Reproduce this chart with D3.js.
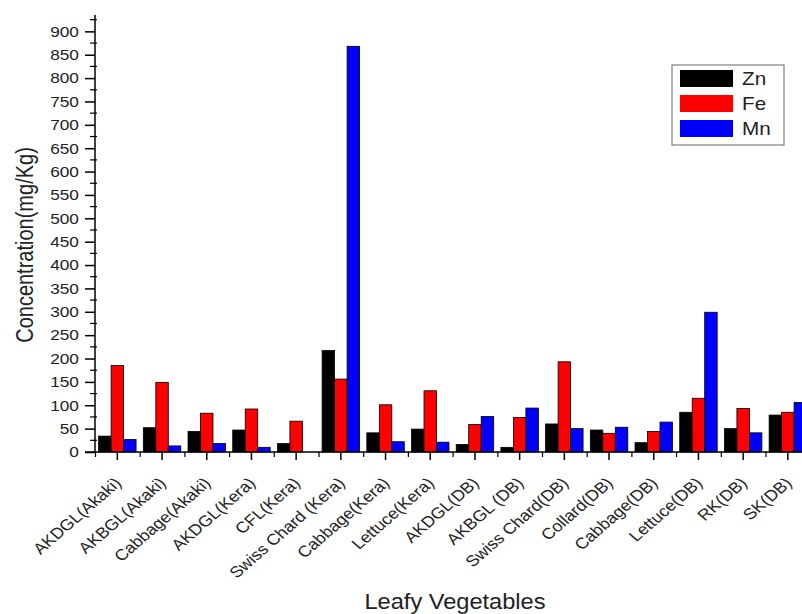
<!DOCTYPE html>
<html>
<head>
<meta charset="utf-8">
<script src="https://cdn.jsdelivr.net/npm/d3@7"></script>
<style>
  body { margin: 0; background: #fff; }
  svg { display: block; font-family: "Liberation Sans", Arial, sans-serif; }
</style>
</head>
<body>
<svg width="802" height="614"></svg>
<script>
// categories and series
var vegetables = ["AKDGL(Akaki)", "AKBGL(Akaki)", "Cabbage(Akaki)", "AKDGL(Kera)", "CFL(Kera)",
  "Swiss Chard (Kera)", "Cabbage(Kera)", "Lettuce(Kera)", "AKDGL(DB)", "AKBGL (DB)",
  "Swiss Chard(DB)", "Collard(DB)", "Cabbage(DB)", "Lettuce(DB)", "RK(DB)", "SK(DB)"];
var metals = ["Zn", "Fe", "Mn"];
var zn = [34, 52, 44, 47, 18, 217, 41, 49, 16, 10, 60, 47, 20, 85, 50, 79];
var fe = [185, 149, 83, 92, 66, 156, 101, 131, 59, 74, 193, 40, 44, 115, 93, 85];
var mn = [27, 13, 18, 10, 0, 868, 22, 21, 76, 94, 50, 53, 64, 299, 41, 106];
var yTicks = d3.range(0, 901, 50);

var colours = { Zn: "#000000", Fe: "#ff0000", Mn: "#0000ff" };
var textColour = "#222";
// the original picture is a little stretched sideways
var stretch = 1.15;

var svg = d3.select("svg");

var rows = vegetables.map(function (v, i) {
    return { name: v, values: [zn[i], fe[i], mn[i]] };
});

// scales
var y = d3.scaleLinear().domain([0, 935]).range([452, 15]);
var x = d3.scaleBand().domain(vegetables).range([95, 95 + 16 * 44.7]);
var xSub = d3.scaleBand().domain(metals).range([0, x.bandwidth()]).paddingInner(0).paddingOuter(0.29);

//////////// BARS ////////////
var groups = svg.append("g")
    .attr("class", "bars")
    .selectAll("g")
    .data(rows)
    .enter().append("g")
    .attr("transform", (d) => `translate(${x(d.name)},0)`);

groups.selectAll("rect")
    .data((d) => d.values.map((v, j) => ({ key: metals[j], value: v })))
    .enter().append("rect")
    .filter((d) => d.value > 0)
    .attr("x", (d) => xSub(d.key))
    .attr("y", (d) => y(d.value))
    .attr("width", xSub.bandwidth())
    .attr("height", (d) => y(0) - y(d.value))
    .attr("fill", (d) => colours[d.key])
    .attr("stroke", "#000")
    .attr("stroke-width", 0.8);

//////////// AXES ////////////
var yAxis = svg.append("g")
    .attr("transform", "translate(95,0)")
    .call(d3.axisLeft(y).tickValues(yTicks).tickSize(10));
yAxis.select(".domain").attr("d", `M0,${y(0)}V${y(935)}`).attr("stroke-width", 1.5);
yAxis.selectAll(".tick line").attr("stroke-width", 1.5);
yAxis.selectAll(".tick text")
    .attr("font-size", 15).attr("fill", textColour)
    .attr("font-family", "Liberation Sans, Arial, sans-serif")
    .attr("x", -14)
    .attr("transform", `scale(${stretch},1)`);

// minor y ticks
svg.append("g").selectAll("line")
    .data(d3.range(25, 935, 50))
    .enter().append("line")
    .attr("x1", 90).attr("x2", 97)
    .attr("y1", (d) => y(d)).attr("y2", (d) => y(d))
    .attr("stroke", "#000").attr("stroke-width", 1.2);

var xAxis = svg.append("g")
    .attr("transform", `translate(0,${y(0)})`)
    .call(d3.axisBottom(x).tickSize(8));
xAxis.select(".domain").attr("d", "M85,0H802").attr("stroke-width", 1.5);
xAxis.selectAll(".tick line").attr("stroke-width", 1.5);
xAxis.selectAll(".tick text")
    .attr("font-size", 15.5).attr("fill", textColour)
    .attr("font-family", "Liberation Sans, Arial, sans-serif")
    .attr("text-anchor", "end")
    .attr("x", 0).attr("y", 0).attr("dy", 0)
    .attr("transform", `translate(5,32) scale(${stretch},1) rotate(-45)`);

// minor x ticks at group boundaries
svg.append("g").selectAll("line")
    .data(vegetables)
    .enter().append("line")
    .attr("x1", (d) => x(d) + 0.5).attr("x2", (d) => x(d) + 0.5)
    .attr("y1", y(0)).attr("y2", y(0) + 5)
    .attr("stroke", "#000").attr("stroke-width", 1.2);

// axis titles
svg.append("text")
    .attr("transform", `translate(33,245) scale(${stretch},1) rotate(-90)`)
    .attr("text-anchor", "middle")
    .attr("font-size", 20).attr("fill", textColour)
    .text("Concentration(mg/Kg)");

svg.append("text")
    .attr("transform", "translate(455,609) scale(1.05,1)")
    .attr("text-anchor", "middle")
    .attr("font-size", 22.5).attr("fill", textColour)
    .text("Leafy Vegetables");

//////////// LEGEND ////////////
var legend = svg.append("g").attr("transform", "translate(672,65)");
legend.append("rect")
    .attr("width", 112).attr("height", 80)
    .attr("fill", "#fff").attr("stroke", "#666").attr("stroke-width", 1);
var item = legend.selectAll("g.item")
    .data(metals)
    .enter().append("g")
    .attr("class", "item")
    .attr("transform", (d, i) => `translate(8,${5 + i * 25})`);
item.append("rect")
    .attr("width", 53).attr("height", 17)
    .attr("fill", (d) => colours[d]);
item.append("text")
    .attr("transform", `translate(62,15) scale(${stretch},1)`)
    .attr("font-size", 18).attr("fill", textColour)
    .text((d) => d);
</script>
</body>
</html>
